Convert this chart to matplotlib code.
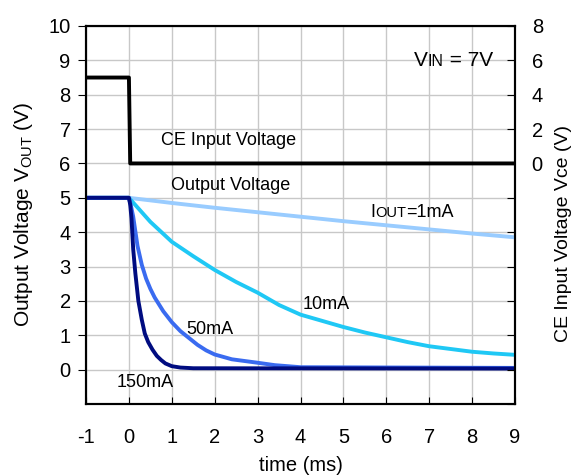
import matplotlib
matplotlib.use("Agg")
import matplotlib.pyplot as plt
from matplotlib.offsetbox import TextArea, HPacker, AnnotationBbox

plt.rcParams['font.family'] = ['Liberation Sans', 'DejaVu Sans']
plt.rcParams['axes.unicode_minus'] = False
plt.rcParams['mathtext.fontset'] = 'custom'
plt.rcParams['mathtext.rm'] = 'Liberation Sans'

# CE input voltage (right axis, V)
t_ce = [-1, 0.0, 0.03, 9]
v_ce = [5, 5, 0, 0]

# output voltage curves (left axis, V), time in ms
t_1ma = [-1, 0, 1, 2, 3, 4, 5, 6, 7, 8, 9]
v_1ma = [5.0, 5.0, 4.85, 4.71, 4.58, 4.45, 4.32, 4.2, 4.08, 3.96, 3.85]

t_10ma = [-1, 0, 0.5, 1, 1.5, 2, 2.5, 3, 3.5, 4, 4.5, 5, 5.5, 6, 6.5, 7, 7.5, 8, 8.5, 9]
v_10ma = [5.0, 5.0, 4.3, 3.72, 3.3, 2.9, 2.55, 2.24, 1.88, 1.6, 1.42, 1.24, 1.08,
          0.94, 0.8, 0.68, 0.6, 0.52, 0.47, 0.43]

t_50ma = [-1, 0, 0.05, 0.1, 0.2, 0.3, 0.4, 0.5, 0.6, 0.7, 0.8, 1.0, 1.2, 1.4, 1.6,
          1.8, 2.0, 2.4, 3.0, 3.4, 4, 9]
v_50ma = [5.0, 5.0, 4.75, 4.45, 3.6, 3.05, 2.65, 2.35, 2.1, 1.9, 1.7, 1.38, 1.12,
          0.92, 0.72, 0.56, 0.44, 0.3, 0.2, 0.13, 0.07, 0.05]

t_150ma = [-1, 0, 0.03, 0.06, 0.1, 0.15, 0.22, 0.3, 0.37, 0.45, 0.55, 0.65, 0.75,
           0.85, 1.0, 1.2, 1.5, 9]
v_150ma = [5.0, 5.0, 4.8, 4.4, 3.5, 2.8, 2.0, 1.45, 1.05, 0.8, 0.58, 0.4, 0.28,
           0.18, 0.1, 0.06, 0.04, 0.03]

x_ticks = list(range(-1, 10))
left_ticks = list(range(0, 11))
right_ticks = list(range(-14, 9, 2))

fig = plt.figure(figsize=(5.75, 4.76), dpi=100)
ax = fig.add_axes([0.1496, 0.1513, 0.7461, 0.7941])

ax.plot(t_1ma, v_1ma, color='#99CCFF', lw=2.8, zorder=3)
ax.plot(t_10ma, v_10ma, color='#1FC8F5', lw=2.8, zorder=4)
ax.plot(t_50ma, v_50ma, color='#3A6BF0', lw=2.8, zorder=5)
ax.plot(t_150ma, v_150ma, color='#000C80', lw=2.8, zorder=6)

ax.set_xlim(-1, 9)
ax.set_ylim(-1, 10)
ax.set_xticks(x_ticks)
ax.set_yticks(left_ticks)
ax.set_yticks([-1], minor=True)
ax.grid(True, which='both', color='#C8C8C8', lw=1)
ax.set_axisbelow(True)
ax.tick_params(axis='x', direction='in', length=5, pad=17, labelsize=14.5)
ax.tick_params(axis='y', direction='out', length=6, pad=5, labelsize=14.5)
ax.tick_params(axis='y', which='minor', length=0)
for s in ax.spines.values():
    s.set_linewidth(1.5)

ax.set_xlabel('time (ms)', fontsize=14.5, labelpad=7)
ax.set_ylabel(r'Output Voltage V$_{\mathregular{OUT}}$ (V)', fontsize=15, labelpad=10)

ax2 = ax.twinx()
ax2.plot(t_ce, v_ce, color='black', lw=2.8, zorder=7)
ax2.set_ylim(-14, 8)
ax2.set_yticks(right_ticks)
ax2.set_yticklabels([str(v) if v >= 0 else '' for v in right_ticks])
ax2.tick_params(axis='y', direction='in', length=6, pad=12, labelsize=14.5)
ax2.set_ylabel('CE Input Voltage Vce (V)', fontsize=14)
ax2.yaxis.set_label_coords(1.093, 0.45)
for s in ax2.spines.values():
    s.set_linewidth(1.5)

ax.text(0.75, 6.66, 'CE Input Voltage', fontsize=13, va='center', ha='left')
ax.text(0.98, 5.35, 'Output Voltage', fontsize=13, va='center', ha='left')
ax.text(4.05, 1.9, '10mA', fontsize=13, va='center', ha='left')
ax.text(1.33, 1.16, '50mA', fontsize=13, va='center', ha='left')
ax.text(-0.28, -0.38, '150mA', fontsize=13, va='center', ha='left')


def sub_label(x, y, parts, ha_box):
    kids = [TextArea(txt, textprops=dict(fontsize=sz)) for txt, sz in parts]
    box = HPacker(children=kids, align='baseline', pad=0, sep=0)
    ab = AnnotationBbox(box, (x, y), xycoords='data', frameon=False,
                        box_alignment=ha_box, pad=0)
    ax.add_artist(ab)


sub_label(5.62, 4.56, [('I', 13), ('OUT', 10.5), ('=1mA', 13)], (0, 0.5))
sub_label(8.48, 9.0, [('V', 15), ('IN', 11.5), (' = 7V', 15)], (1, 0.5))

fig.savefig('out.png', dpi=100)
